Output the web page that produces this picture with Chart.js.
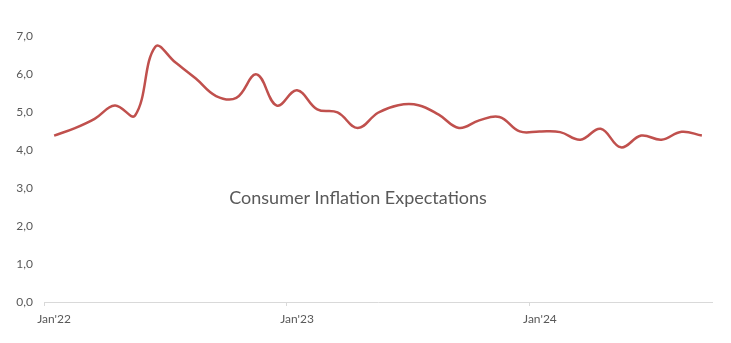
<!DOCTYPE html>
<html>
<head>
<meta charset="utf-8">
<script src="https://cdn.jsdelivr.net/npm/chart.js@4"></script>
<style>
    html, body { margin: 0; padding: 0; background: #fff; }
    #wrap { width: 731px; height: 343px; position: relative; }
</style>
</head>
<body>
<div id="wrap"><canvas id="inflationChart"></canvas></div>
<script>
// monthly, Jan'22 .. Sep'24
const months = [
    "Jan'22", "Feb'22", "Mar'22", "Apr'22", "May'22", "Jun'22", "Jul'22", "Aug'22", "Sep'22", "Oct'22", "Nov'22", "Dec'22",
    "Jan'23", "Feb'23", "Mar'23", "Apr'23", "May'23", "Jun'23", "Jul'23", "Aug'23", "Sep'23", "Oct'23", "Nov'23", "Dec'23",
    "Jan'24", "Feb'24", "Mar'24", "Apr'24", "May'24", "Jun'24", "Jul'24", "Aug'24", "Sep'24"
];
const expectations = [
    4.38, 4.57, 4.82, 5.17, 4.91, 6.72, 6.30, 5.88, 5.42, 5.37, 5.99, 5.17,
    5.57, 5.07, 4.99, 4.58, 4.98, 5.18, 5.18, 4.93, 4.58, 4.78, 4.87, 4.49,
    4.49, 4.47, 4.27, 4.56, 4.07, 4.38, 4.27, 4.48, 4.38
];
const chartTitle = 'Consumer Inflation Expectations';

const textColor = '#595959';
const axisGray = '#d9d9d9';

// title sits inside the plot area, like the original
const centerTitle = {
    id: 'centerTitle',
    afterDraw(chart) {
        const { ctx } = chart;
        ctx.save();
        ctx.font = '18px Lato';
        ctx.fillStyle = textColor;
        ctx.textAlign = 'center';
        ctx.textBaseline = 'middle';
        ctx.fillText(chartTitle, 358, 198);
        ctx.restore();
    }
};

const ctx = document.getElementById('inflationChart').getContext('2d');
window.inflationChart = new Chart(ctx, {
    type: 'line',
    data: {
        labels: months,
        datasets: [{
            label: chartTitle,
            data: expectations,
            borderColor: '#c0504d',
            borderWidth: 2.5,
            pointRadius: 0,
            tension: 0.4,
            fill: false
        }]
    },
    options: {
        responsive: true,
        maintainAspectRatio: false,
        animation: false,
        layout: { padding: { top: 36, right: 19, left: 0, bottom: 0 } },
        plugins: {
            legend: { display: false },
            title: { display: false },
            tooltip: { enabled: false }
        },
        scales: {
            x: {
                offset: true,
                grid: {
                    offset: true,
                    drawOnChartArea: false,
                    drawTicks: true,
                    tickLength: 4,
                    color: (c) => (c.index % 12 === 0 ? axisGray : 'rgba(0,0,0,0)')
                },
                border: { display: true, color: axisGray, width: 1 },
                ticks: {
                    autoSkip: false,
                    maxRotation: 0,
                    padding: 6,
                    color: textColor,
                    font: { family: 'Lato', size: 12 },
                    callback: (v, i) => (i % 12 === 0 ? months[i] : '')
                },
                afterFit: (scale) => { scale.height = 41; }
            },
            y: {
                min: 0,
                max: 7,
                grid: { display: false, drawTicks: false },
                border: { display: false },
                ticks: {
                    stepSize: 1,
                    padding: 11,
                    color: textColor,
                    font: { family: 'Lato', size: 12 },
                    callback: (v) => v.toFixed(1).replace('.', ',')
                },
                afterFit: (scale) => { scale.width = 44; }
            }
        }
    },
    plugins: [centerTitle]
});
</script>
</body>
</html>
